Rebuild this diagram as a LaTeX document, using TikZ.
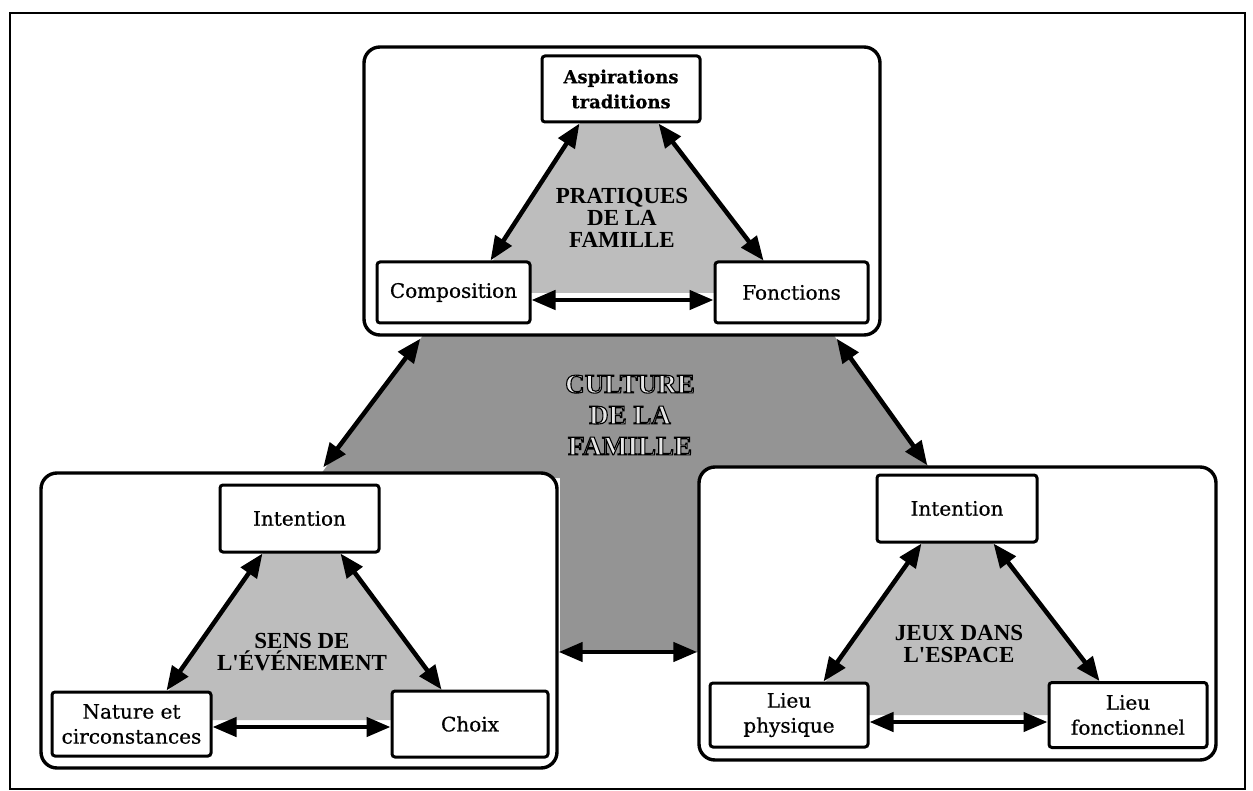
\documentclass[tikz,border=0pt]{standalone}
\usepackage{fontspec}
\setmainfont{DejaVu Serif}
\newfontfamily\boxfont[FakeBold=0.6]{DejaVu Serif}
\newfontfamily\capfont{Liberation Serif}
\usetikzlibrary{arrows.meta,calc}
\definecolor{cultgray}{gray}{0.58}
\definecolor{ingray}{gray}{0.74}
\newcommand{\hollowtext}[1]{\special{pdf:literal direct 2 Tr 1.1 w 0 G 0.9 g}#1\special{pdf:literal direct 0 Tr 0 g}}
\tikzset{
  outerframe/.style={draw, line width=2pt},
  bigbox/.style={draw, fill=white, line width=3.4pt, rounded corners=16pt, inner sep=0pt},
  smallbox/.style={draw, fill=white, line width=3pt, rounded corners=3pt, inner sep=0pt,
    align=center, font=\boxfont\fontsize{20}{25}\selectfont},
  link/.style={line width=4.5pt,
    {Triangle[length=24pt,width=19pt]}-{Triangle[length=24pt,width=19pt]}},
  innerlabel/.style={align=center, inner sep=0pt, font=\capfont\bfseries\fontsize{23}{22}\selectfont},
  culturelabel/.style={align=center, inner sep=0pt, font=\capfont\bfseries\fontsize{27}{31}\selectfont},
}
\begin{document}
\begin{tikzpicture}[x=1pt,y=-1pt]
\useasboundingbox (0,0) rectangle (1253,791);
\draw[outerframe] (10,13) rectangle (1245,789);

% culture shaded region
\fill[cultgray] (427,330) -- (830,330) -- (937,478) -- (700,478) -- (700,652)
  -- (560,652) -- (560,478) -- (318,478) -- cycle;

% big boxes
\node[bigbox, minimum width=516pt, minimum height=288pt] (top) at (622,191) {};
\node[bigbox, minimum width=516pt, minimum height=295pt] (bl) at (299,620.5) {};
\node[bigbox, minimum width=517pt, minimum height=293pt] (br) at (957.5,613.5) {};

% inner shaded triangles
\fill[ingray] (581,122) -- (657,122) -- (765,262) -- (715,262) -- (715,293)
  -- (530,293) -- (530,262) -- (492,262) -- cycle;
\fill[ingray] (264,552) -- (339,552) -- (443,691) -- (392,691) -- (392,720)
  -- (211,720) -- (211,692) -- (168,692) -- cycle;
\fill[ingray] (923,542) -- (992,542) -- (1101,683) -- (1049,683) -- (1049,715)
  -- (868,715) -- (868,683) -- (825,683) -- cycle;

% small boxes
\node[smallbox, minimum width=158pt, minimum height=66pt] (asp) at (621,89)
  {\bfseries\fontsize{18}{23}\selectfont Aspirations\\ \bfseries\fontsize{18}{23}\selectfont traditions};
\node[smallbox, minimum width=153pt, minimum height=61pt] (comp) at (453.5,292.5) {Composition};
\node[smallbox, minimum width=153pt, minimum height=61pt] (fonc) at (791.5,292.5) {Fonctions};

\node[smallbox, minimum width=159pt, minimum height=67pt] (intl) at (299.5,518.5) {Intention};
\node[smallbox, minimum width=159pt, minimum height=64pt] (nat) at (131.5,724) {Nature et\\circonstances};
\node[smallbox, minimum width=156pt, minimum height=66pt] (choix) at (470,724) {Choix};

\node[smallbox, minimum width=160pt, minimum height=67pt] (intr) at (957,508.5) {Intention};
\node[smallbox, minimum width=158pt, minimum height=64pt] (lphys) at (789,715) {Lieu\\physique};
\node[smallbox, minimum width=158pt, minimum height=65pt] (lfonc) at (1128,715) {Lieu\\fonctionnel};

% connectors: culture level
\draw[link] ($(top.south west)+(58,2)$) -- ($(bl.north west)+(284,-4)$);
\draw[link] ($(top.south east)+(-45,2)$) -- ($(br.north west)+(230,0)$);
\draw[link] ($(bl.east)+(0,31.5)$) -- ($(br.west)+(0,38.5)$);

% connectors: top triangle
\draw[link] ($(asp.south west)+(39,0)$) -- ($(comp.north west)+(115,0)$);
\draw[link] ($(asp.south east)+(-43,0)$) -- ($(fonc.north west)+(50,0)$);
\draw[link] ($(comp.east)+(0,7.5)$) -- ($(fonc.west)+(0,7.5)$);

% connectors: left triangle
\draw[link] ($(intl.south west)+(44,0)$) -- ($(nat.north west)+(116,0)$);
\draw[link] ($(intl.south east)+(-40,0)$) -- ($(choix.north west)+(51,0)$);
\draw[link] ($(nat.east)+(0,3)$) -- ($(choix.west)+(0,3)$);

% connectors: right triangle
\draw[link] ($(intr.south west)+(46,0)$) -- ($(lphys.north west)+(115,0)$);
\draw[link] ($(intr.south east)+(-45,0)$) -- ($(lfonc.north west)+(52,0)$);
\draw[link] ($(lphys.east)+(0,7)$) -- ($(lfonc.west)+(0,7)$);

% labels
\node[innerlabel] (prat) at (622,218) {PRATIQUES\\DE LA\\FAMILLE};
\node[innerlabel] (sens) at (302,652) {SENS DE\\L'ÉVÉNEMENT};
\node[innerlabel] (jeux) at (959,644) {JEUX DANS\\L'ESPACE};
\node[culturelabel] (cult) at (630,415) {\hollowtext{CULTURE}\\\hollowtext{DE LA}\\\hollowtext{FAMILLE}};
\end{tikzpicture}
\end{document}
